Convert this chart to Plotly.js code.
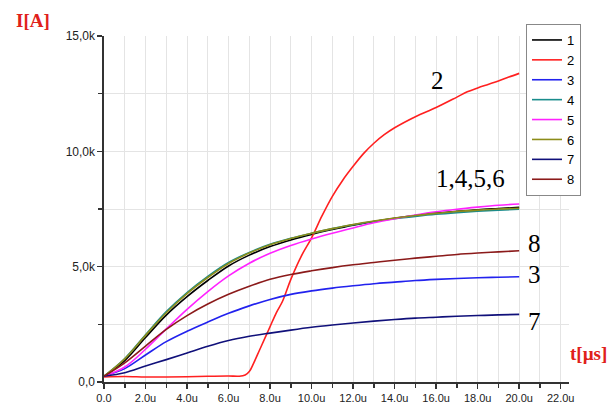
<!DOCTYPE html>
<html>
<head>
<meta charset="utf-8">
<script src="https://cdn.plot.ly/plotly-3.0.1.min.js"></script>
<style>html,body{margin:0;padding:0;background:#fff;}#chart{width:614px;height:403px;}</style>
</head>
<body>
<div id="chart"></div>
<script>
// time axis (µs) shared by curves 1,3-8
const t = [0,1,2,3,4,5,6,7,8,9,10,11,12,13,14,15,16,17,18,19,20];
// current values in kA
const s1 = [0.25,0.93,1.93,2.90,3.70,4.40,5.03,5.50,5.87,6.16,6.40,6.61,6.80,6.96,7.10,7.22,7.32,7.40,7.47,7.52,7.57];
const s3 = [0.25,0.58,1.17,1.75,2.20,2.60,2.98,3.30,3.58,3.80,3.95,4.07,4.17,4.26,4.33,4.40,4.45,4.49,4.52,4.54,4.56];
const s4 = [0.25,1.02,2.05,3.05,3.88,4.58,5.18,5.62,5.97,6.23,6.45,6.65,6.82,6.96,7.08,7.18,7.27,7.34,7.40,7.45,7.49];
const s5 = [0.25,0.65,1.42,2.30,3.15,3.92,4.60,5.15,5.58,5.92,6.20,6.45,6.68,6.90,7.08,7.24,7.38,7.49,7.58,7.66,7.72];
const s6 = [0.25,1.00,2.02,3.00,3.83,4.53,5.14,5.59,5.95,6.22,6.45,6.65,6.83,6.98,7.11,7.22,7.31,7.39,7.45,7.50,7.53];
const s7 = [0.25,0.40,0.69,0.97,1.26,1.55,1.80,1.98,2.12,2.25,2.37,2.47,2.56,2.64,2.71,2.77,2.81,2.85,2.88,2.91,2.93];
const s8 = [0.25,0.83,1.56,2.28,2.88,3.38,3.80,4.15,4.45,4.66,4.82,4.96,5.08,5.18,5.28,5.37,5.45,5.53,5.59,5.64,5.69];
// curve 2 has its own time samples
const t2 = [0,1,2,3,4,5,6,6.5,6.8,7.0,7.2,7.5,7.8,8.0,8.3,8.6,9.0,9.5,10,10.5,11,11.5,12,12.5,13,13.5,14,15,16,17,17.5,18,18.5,19,19.5,20];
const s2 = [0.22,0.24,0.22,0.22,0.23,0.25,0.26,0.25,0.30,0.45,0.80,1.40,2.00,2.40,3.00,3.50,4.45,5.45,6.25,7.20,8.05,8.75,9.35,9.90,10.35,10.72,11.02,11.50,11.90,12.35,12.58,12.75,12.90,13.05,13.22,13.38];

const names = ["1","2","3","4","5","6","7","8"];
const colors = ["#000000","#ff2020","#2222ee","#1a8c8c","#ff22ff","#8c8c1a","#10107a","#8b1a1a"];
const xs = [t,t2,t,t,t,t,t,t];
const ys = [s1,s2,s3,s4,s5,s6,s7,s8];

const xTickVals = [0,2,4,6,8,10,12,14,16,18,20,22];
const xTickText = ["0.0","2.0u","4.0u","6.0u","8.0u","10.0u","12.0u","14.0u","16.0u","18.0u","20.0u","22.0u"];
const yTickVals = [0,5000,10000,15000];
const yTickText = ["0,0","5,0k","10,0k","15,0k"];

const curveLabels = [
  {text:"2", px:437, py:81},
  {text:"1,4,5,6", px:470, py:178},
  {text:"8", px:534, py:243},
  {text:"3", px:534, py:274},
  {text:"7", px:534, py:321}
];

const W = 614, H = 403;
const M = {l:104, r:45, t:36, b:21};
const pw = W - M.l - M.r, ph = H - M.t - M.b;
const px2x = p => (p - M.l) / pw;
const py2y = p => (H - M.b - p) / ph;

const traces = names.map((n,i) => ({
  x: xs[i], y: ys[i].map(v => v*1000), name: n, type: "scatter", mode: "lines",
  line: {color: colors[i], width: 1.6, shape: "spline", smoothing: 1.0}
}));

const annotations = curveLabels.map(c => ({
  text: c.text, xref: "paper", yref: "paper", x: px2x(c.px), y: py2y(c.py),
  xanchor: "center", yanchor: "middle", showarrow: false,
  font: {family: "Liberation Serif, Times New Roman, serif", size: 25, color: "#000"}
}));
annotations.push({text:"<b>I[A]</b>", xref:"paper", yref:"paper", x:px2x(33), y:py2y(21),
  xanchor:"center", yanchor:"middle", showarrow:false,
  font:{family:"Liberation Serif, Times New Roman, serif", size:19, color:"#e0201a"}});
annotations.push({text:"<b>t[µs]</b>", xref:"paper", yref:"paper", x:px2x(588), y:py2y(353),
  xanchor:"center", yanchor:"middle", showarrow:false,
  font:{family:"Liberation Serif, Times New Roman, serif", size:19, color:"#e0201a"}});

const layout = {
  width: W, height: H,
  margin: M,
  paper_bgcolor: "#fff", plot_bgcolor: "#fff",
  showlegend: true,
  legend: {x: px2x(526), y: py2y(24), xanchor: "left", yanchor: "top",
    bgcolor: "#fff", bordercolor: "#888", borderwidth: 1,
    font: {family: "Liberation Sans, Arial, sans-serif", size: 13, color: "#000"},
    tracegroupgap: 0, itemwidth: 30},
  xaxis: {range: [0, 22.4], tickmode: "array", tickvals: xTickVals, ticktext: xTickText,
    ticks: "outside", ticklen: 5, tickcolor: "#333", tickwidth: 1.5,
    showline: true, linecolor: "#333", linewidth: 1.6, zeroline: false,
    showgrid: true, gridcolor: "#e4e4e4", gridwidth: 1,
    minor: {tickmode: "linear", tick0: 0, dtick: 1, ticks: "outside", ticklen: 4, tickcolor: "#333",
      showgrid: true, gridcolor: "#e4e4e4", gridwidth: 1},
    tickfont: {family: "Liberation Sans, Arial, sans-serif", size: 11, color: "#222"}},
  yaxis: {range: [0, 15000], tickmode: "array", tickvals: yTickVals, ticktext: yTickText,
    ticks: "outside", ticklen: 5, tickcolor: "#333", tickwidth: 1.5,
    showline: true, linecolor: "#333", linewidth: 1.6, zeroline: false,
    showgrid: true, gridcolor: "#e4e4e4", gridwidth: 1,
    minor: {tickmode: "linear", tick0: 0, dtick: 2500, ticks: "outside", ticklen: 4, tickcolor: "#333",
      showgrid: true, gridcolor: "#e4e4e4", gridwidth: 1},
    tickfont: {family: "Liberation Sans, Arial, sans-serif", size: 12, color: "#222"}},
  annotations: annotations
};

Plotly.newPlot("chart", traces, layout, {displayModeBar: false, staticPlot: true});
</script>
</body>
</html>
